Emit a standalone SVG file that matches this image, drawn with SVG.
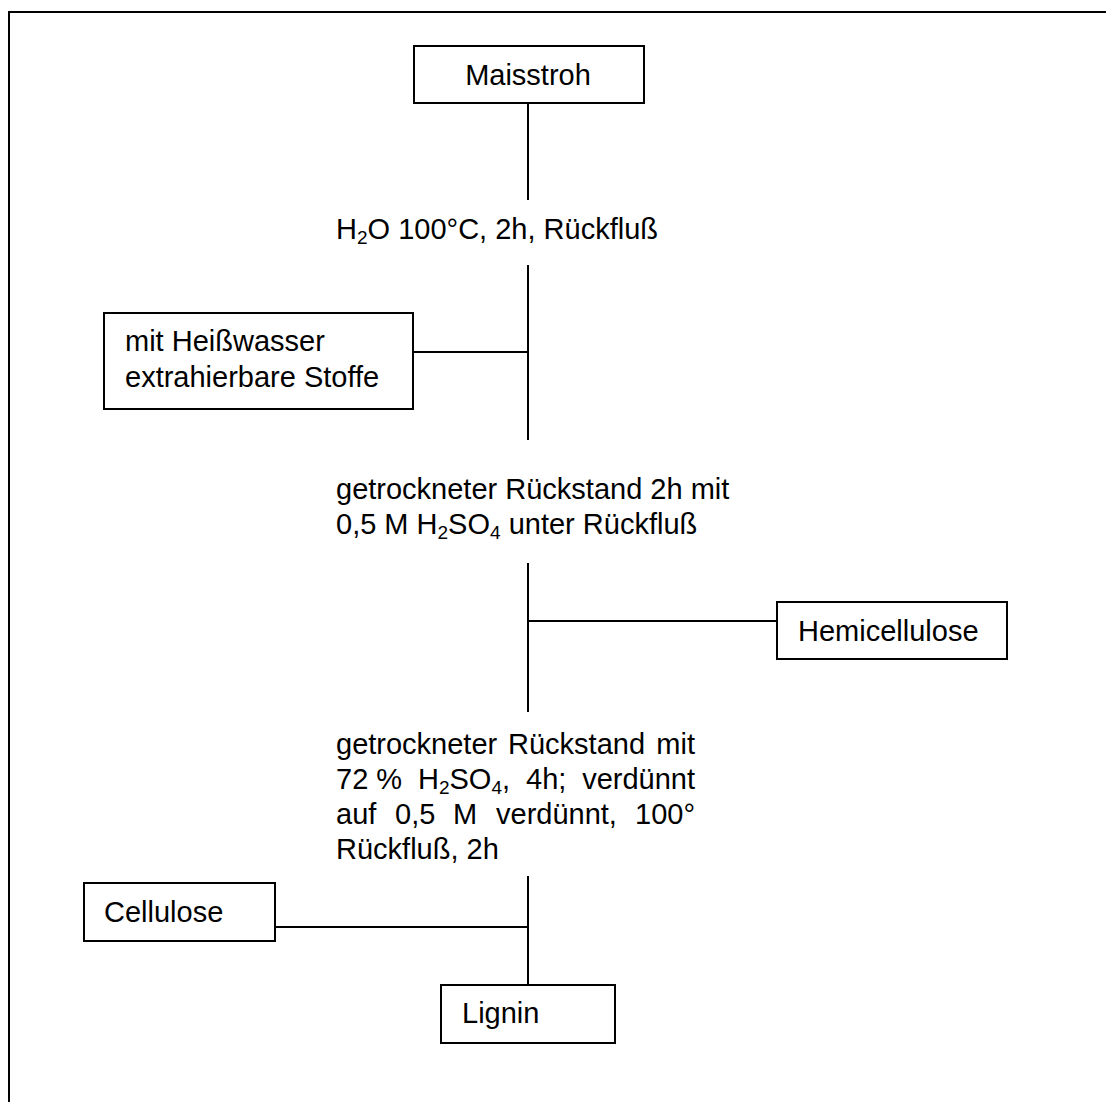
<svg xmlns="http://www.w3.org/2000/svg" width="1106" height="1102" viewBox="0 0 1106 1102">
  <style>
    .box { fill: #ffffff; stroke: #000000; stroke-width: 2; }
    .wire { stroke: #000000; stroke-width: 2; fill: none; }
    text { font-family: "Liberation Sans", Arial, sans-serif; font-size: 29px; fill: #000000; }
    .sub { font-size: 19px; }
    .end { text-anchor: end; }
  </style>

  <rect width="1106" height="1102" fill="#ffffff"/>
  <!-- page frame -->
  <path class="wire" d="M9,1110 V12 H1120"/>

  <!-- connectors -->
  <g id="connectors">
    <line class="wire" x1="528" y1="103" x2="528" y2="200"/>
    <line class="wire" x1="528" y1="265" x2="528" y2="440"/>
    <line class="wire" x1="413" y1="352" x2="528" y2="352"/>
    <line class="wire" x1="528" y1="563" x2="528" y2="712"/>
    <line class="wire" x1="528" y1="621" x2="777" y2="621"/>
    <line class="wire" x1="528" y1="876" x2="528" y2="985"/>
    <line class="wire" x1="275" y1="927" x2="528" y2="927"/>
  </g>

  <!-- step labels -->
  <g id="step1">
    <text x="336" y="239">H<tspan class="sub" dy="5">2</tspan><tspan dy="-5">O 100°C, 2h, Rückfluß</tspan></text>
  </g>
  <g id="step2">
    <text x="336" y="499">getrockneter Rückstand 2h mit</text>
    <text x="336" y="534">0,5 M H<tspan class="sub" dy="5">2</tspan><tspan dy="-5">SO</tspan><tspan class="sub" dy="5">4</tspan><tspan dy="-5"> unter Rückfluß</tspan></text>
  </g>
  <!-- justified block: words placed so each full line spans x 336..695 -->
  <g id="step3">
    <text x="336" y="754">getrockneter</text>
    <text x="508" y="754">Rückstand</text>
    <text class="end" x="695" y="754">mit</text>

    <text x="336" y="789">72 %</text>
    <text x="418" y="789">H<tspan class="sub" dy="5">2</tspan><tspan dy="-5">SO</tspan><tspan class="sub" dy="5">4</tspan><tspan dy="-5">,</tspan></text>
    <text x="526" y="789">4h;</text>
    <text class="end" x="695" y="789">verdünnt</text>

    <text x="336" y="824">auf</text>
    <text x="395" y="824">0,5</text>
    <text x="453" y="824">M</text>
    <text x="496" y="824">verdünnt,</text>
    <text class="end" x="695" y="824">100°</text>

    <text x="336" y="859">Rückfluß, 2h</text>
  </g>

  <!-- material nodes -->
  <g id="maisstroh">
    <rect class="box" x="414" y="46" width="230" height="57"/>
    <text x="528" y="85" text-anchor="middle">Maisstroh</text>
  </g>
  <g id="heisswasser">
    <rect class="box" x="104" y="313" width="309" height="96"/>
    <text x="125" y="351">mit Heißwasser</text>
    <text x="125" y="387">extrahierbare Stoffe</text>
  </g>
  <g id="hemicellulose">
    <rect class="box" x="777" y="602" width="230" height="57"/>
    <text x="798" y="641">Hemicellulose</text>
  </g>
  <g id="cellulose">
    <rect class="box" x="84" y="883" width="191" height="58"/>
    <text x="104" y="922">Cellulose</text>
  </g>
  <g id="lignin">
    <rect class="box" x="441" y="985" width="174" height="58"/>
    <text x="462" y="1023">Lignin</text>
  </g>
</svg>
